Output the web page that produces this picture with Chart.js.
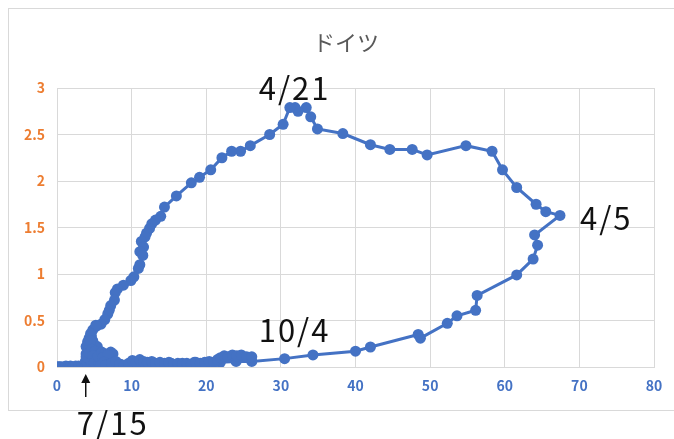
<!DOCTYPE html>
<html lang="ja">
<head>
<meta charset="utf-8">
<title>ドイツ</title>
<script src="https://cdn.jsdelivr.net/npm/chart.js@4/dist/chart.umd.min.js"></script>
<style>
  html, body { margin: 0; padding: 0; background: #ffffff; }
  #wrap { position: relative; width: 674px; height: 439px; overflow: hidden; }
  #frame { position: absolute; left: 8px; top: 8px; width: 700px; height: 403px; border: 1px solid #d9d9d9; box-sizing: border-box; }
  #c { position: absolute; left: 0; top: 0; }
</style>
</head>
<body>
<div id="wrap">
  <div id="frame"></div>
  <canvas id="c" width="674" height="439"></canvas>
</div>
<script>
// Trajectory points in date order (x, y)
const xValues = [
  // late winter, near the origin
  0, 0.1, 0.2, 0.3, 0.4, 0.5, 0.6, 0.8, 1.0, 1.2, 1.5, 1.8, 2.1, 2.5, 2.9, 3.3, 3.7,
  // early spring, moving right along the bottom
  4.3, 5.2, 6.2, 7.3, 8.5, 9.8, 11.1, 12.4, 13.8, 15.3, 16.8, 18.4, 20.1, 21.9, 24.0, 26.1,
  30.5, 34.3, 40.0, 42.0, 48.4, 48.7, 52.3, 53.6, 56.1, 56.3, 61.6, 63.8, 64.4, 64.0,
  67.4, 65.5, 64.2, 61.6, 59.7, 58.3, 54.8, 49.6, 47.6, 44.6, 42.0, 38.3, 34.9, 34.0,
  33.4, 32.3, 31.9, 31.2, 30.3, 28.5, 25.9, 24.6, 23.4, 22.1, 20.6, 19.1, 18.0, 16.0,
  14.4, 13.9, 13.2, 12.7, 12.4, 12.0, 11.8, 11.3, 11.6, 11.1, 11.5, 11.1, 10.9, 10.3,
  9.9, 8.9, 8.1, 7.8, 7.7, 7.2, 7.0, 6.8, 6.4, 5.9, 5.3, 4.8, 5.2, 4.5, 4.3, 4.6, 4.1, 3.9,
  4.8, 4.2, 3.9, 4.9, 4.3, 3.8, 4.6, 4.1, 3.85,
  // summer cluster, then autumn along the bottom
  4.2, 4.6, 4.0, 4.4, 3.9, 4.9, 5.4, 4.5, 4.3, 4.7, 5.1, 4.8, 5.3, 5.0, 5.6, 5.9, 5.5, 6.0, 6.4,
  6.1, 6.7, 7.1, 7.5, 7.2, 6.8, 6.3, 5.8, 6.5, 7.3, 7.9, 8.4, 9.0, 9.6, 10.1, 10.6,
  11.1, 11.6, 12.1, 12.7, 13.2, 13.8, 14.4, 15.0, 15.6, 16.2, 16.8, 17.4, 18.0, 18.6,
  19.2, 19.8, 20.4, 21.0, 21.5, 21.9, 22.4, 22.9, 23.5, 24.1, 24.7, 25.4, 26.1
];
const yValues = [
  0, 0, 0, 0, 0, 0, 0, 0, 0, 0.01, 0, 0.01, 0, 0.01, 0.01, 0.01, 0.01,
  0.01, 0.02, 0.02, 0.02, 0.03, 0.03, 0.03, 0.04, 0.04, 0.04, 0.04, 0.05, 0.05, 0.05, 0.06, 0.06,
  0.09, 0.13, 0.17, 0.215, 0.35, 0.31, 0.47, 0.55, 0.61, 0.77, 0.99, 1.16, 1.31, 1.42,
  1.63, 1.67, 1.75, 1.93, 2.12, 2.32, 2.38, 2.28, 2.34, 2.34, 2.39, 2.51, 2.56, 2.69,
  2.79, 2.75, 2.79, 2.79, 2.61, 2.50, 2.38, 2.32, 2.32, 2.25, 2.12, 2.04, 1.98, 1.84,
  1.72, 1.62, 1.58, 1.54, 1.49, 1.44, 1.40, 1.35, 1.29, 1.24, 1.20, 1.10, 1.06, 0.97,
  0.93, 0.88, 0.84, 0.80, 0.72, 0.66, 0.61, 0.57, 0.51, 0.46, 0.44, 0.40, 0.45, 0.36, 0.31, 0.34, 0.27, 0.22,
  0.28, 0.18, 0.14, 0.20, 0.09, 0.06, 0.10, 0.03, 0.0,
  0.01, 0.03, 0.05, 0.08, 0.11, 0.25, 0.22, 0.28, 0.15, 0.19, 0.17, 0.12, 0.09, 0.05, 0.03, 0.07, 0.12, 0.16, 0.14,
  0.10, 0.07, 0.11, 0.14, 0.16, 0.13, 0.05, 0.01, 0.02, 0.04, 0.06, 0.03, 0.02, 0.04, 0.07, 0.05,
  0.08, 0.06, 0.05, 0.06, 0.04, 0.05, 0.04, 0.05, 0.03, 0.04, 0.03, 0.04, 0.03, 0.05,
  0.04, 0.05, 0.06, 0.05, 0.08, 0.10, 0.12, 0.11, 0.13, 0.12, 0.13, 0.11, 0.11
];

// Axis ticks
const xTicks = [0, 10, 20, 30, 40, 50, 60, 70, 80];
const yTicks = [0, 0.5, 1, 1.5, 2, 2.5, 3];

// Date callouts and the points they refer to
const calloutTexts = ['4/5', '4/21', '10/4', '7/15'];
const calloutPoints = [[67.4, 1.63], [31.7, 2.79], [31.7, 0.4], [3.85, 0]];

const titleText = 'ドイツ';
const blue = '#4472C4';

const points = xValues.map((x, i) => ({ x: x, y: yValues[i] }));

const calloutPlugin = {
  id: 'callouts',
  afterDraw(chart) {
    const ctx = chart.ctx;
    const xs = chart.scales.x, ys = chart.scales.y;
    const px = i => xs.getPixelForValue(calloutPoints[i][0]);
    const py = i => ys.getPixelForValue(calloutPoints[i][1]);
    ctx.save();
    // title
    ctx.fillStyle = '#595959';
    ctx.font = '22px "Noto Sans CJK JP", "Noto Sans", sans-serif';
    ctx.textAlign = 'center';
    ctx.textBaseline = 'middle';
    ctx.fillText(titleText, 346, 43);

    ctx.fillStyle = '#111111';
    ctx.font = '31px "Noto Sans CJK JP", "Noto Sans", sans-serif';
    if ('letterSpacing' in ctx) ctx.letterSpacing = '2px';
    // 4/5 to the right of its point
    ctx.textAlign = 'left';
    ctx.fillText(calloutTexts[0], px(0) + 20, py(0) + 3);
    // 4/21 above the peak
    ctx.textAlign = 'center';
    ctx.fillText(calloutTexts[1], px(1) + 1, py(1) - 19);
    // 10/4 above the lower branch
    ctx.fillText(calloutTexts[2], px(2) + 1, py(2));
    // 7/15 below the axis with an arrow to its point
    const ax = px(3);
    ctx.fillText(calloutTexts[3], ax + 27, 423);
    if ('letterSpacing' in ctx) ctx.letterSpacing = '0px';
    ctx.strokeStyle = '#111111';
    ctx.lineWidth = 1.5;
    ctx.beginPath();
    ctx.moveTo(ax, 397);
    ctx.lineTo(ax, 381);
    ctx.stroke();
    ctx.beginPath();
    ctx.moveTo(ax, 374);
    ctx.lineTo(ax - 4.5, 383);
    ctx.lineTo(ax + 4.5, 383);
    ctx.closePath();
    ctx.fill();
    ctx.restore();
  }
};

const tickFont = { family: '"Noto Sans CJK JP", sans-serif', size: 14, weight: 'bold' };

new Chart(document.getElementById('c'), {
  type: 'scatter',
  data: {
    datasets: [{
      data: points,
      showLine: true,
      borderColor: blue,
      backgroundColor: blue,
      borderWidth: 3,
      pointRadius: 5.5,
      pointHoverRadius: 5.5,
      pointBorderWidth: 0,
      tension: 0
    }]
  },
  options: {
    responsive: false,
    animation: false,
    events: [],
    layout: { padding: { left: 0, right: 20, top: 88, bottom: 42 } },
    plugins: { legend: { display: false }, tooltip: { enabled: false }, title: { display: false } },
    scales: {
      x: {
        type: 'linear',
        min: xTicks[0], max: xTicks[xTicks.length - 1],
        afterFit(s) { s.height = 30; },
        afterBuildTicks(s) { s.ticks = xTicks.map(v => ({ value: v })); },
        grid: { color: '#d9d9d9', lineWidth: 1, drawTicks: false },
        border: { color: '#d9d9d9', width: 1 },
        ticks: { color: blue, padding: 10, font: tickFont, callback: v => String(v) }
      },
      y: {
        type: 'linear',
        min: yTicks[0], max: yTicks[yTicks.length - 1],
        afterFit(s) { s.width = 57; },
        afterBuildTicks(s) { s.ticks = yTicks.map(v => ({ value: v })); },
        grid: { color: '#d9d9d9', lineWidth: 1, drawTicks: false },
        border: { color: '#d9d9d9', width: 1 },
        ticks: { color: '#ED7D31', padding: 12, font: tickFont, callback: v => String(v) }
      }
    }
  },
  plugins: [calloutPlugin]
});
</script>
</body>
</html>
